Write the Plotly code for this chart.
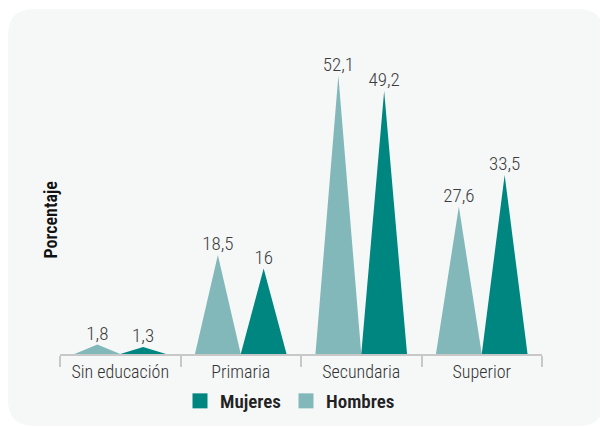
import plotly.graph_objects as go

categories = ["Sin educación", "Primaria", "Secundaria", "Superior"]
hombres = [1.8, 18.5, 52.1, 27.6]
mujeres = [1.3, 16, 49.2, 33.5]

C_H = "#83b8ba"
C_M = "#008681"
FONT = "Roboto Condensed, DejaVu Sans Condensed, sans-serif"

OFF = 8  # page body margin offset
W, H = 608, 427
ML, MR, MT, MB = 60 - OFF, 608 - (542 - OFF), 22 - OFF, 427 - (354 - OFF)
PW, PH = W - ML - MR, H - MT - MB
YMAX = 62.1
BW = 0.38  # triangle base width in category units

def fmt(v):
    return ("%g" % v).replace(".", ",")

fig = go.Figure()

for series, color, side in ((hombres, C_H, -1), (mujeres, C_M, 1)):
    xs, ys = [], []
    for i, v in enumerate(series):
        a = i if side > 0 else i - BW
        xs += [a, a + BW / 2, a + BW, None]
        ys += [0, v, 0, None]
    fig.add_trace(go.Scatter(x=xs, y=ys, mode="lines", fill="toself",
                             fillcolor=color, line=dict(width=0, color=color),
                             showlegend=False, hoverinfo="skip"))
    fig.add_trace(go.Scatter(
        x=[i + side * BW / 2 for i in range(len(series))], y=series,
        mode="text", text=[fmt(v) for v in series], textposition="top center",
        textfont=dict(family=FONT, size=19, color="#3c3c3c", weight=300),
        showlegend=False, hoverinfo="skip"))

fig.add_trace(go.Scatter(x=[None], y=[None], mode="markers", name="Mujeres",
                         marker=dict(symbol="square", size=15, color=C_M)))
fig.add_trace(go.Scatter(x=[None], y=[None], mode="markers", name="Hombres",
                         marker=dict(symbol="square", size=15, color=C_H)))

def px(x):
    return (x - OFF - ML) / PW

def py(y):
    return (H - MB - (y - OFF)) / PH

x0, x1, y0, y1, r = 8, 604, 9, 426, 26
path = (f"M {px(x0 + r)} {py(y0)} L {px(x1 - r)} {py(y0)} "
        f"Q {px(x1)} {py(y0)} {px(x1)} {py(y0 + r)} "
        f"L {px(x1)} {py(y1 - r)} Q {px(x1)} {py(y1)} {px(x1 - r)} {py(y1)} "
        f"L {px(x0 + r)} {py(y1)} Q {px(x0)} {py(y1)} {px(x0)} {py(y1 - r)} "
        f"L {px(x0)} {py(y0 + r)} Q {px(x0)} {py(y0)} {px(x0 + r)} {py(y0)} Z")

fig.update_layout(
    width=W, height=H,
    margin=dict(l=ML, r=MR, t=MT, b=MB),
    paper_bgcolor="white", plot_bgcolor="rgba(0,0,0,0)",
    shapes=[dict(type="path", path=path, xref="paper", yref="paper",
                 fillcolor="#f6f8f8", line=dict(width=0), layer="below")],
    xaxis=dict(range=[-0.5, 3.5], tickmode="array", tickvals=list(range(4)),
               ticktext=categories, ticks="outside", ticklen=0,
               showline=True, linecolor="#c8c8c8", linewidth=2,
               showgrid=False, zeroline=False, fixedrange=True,
               tickfont=dict(family=FONT, size=18, color="#333333", weight=300),
               minor=dict(tickmode="array", tickvals=[-0.5, 0.5, 1.5, 2.5, 3.5],
                          ticks="outside", ticklen=11, tickwidth=2,
                          tickcolor="#c8c8c8", showgrid=False)),
    yaxis=dict(range=[0, YMAX], visible=False, fixedrange=True),
    legend=dict(orientation="h", x=px(290), y=py(401), xanchor="center",
                yanchor="middle",
                font=dict(family=FONT, size=19, color="#222222", weight=600),
                bgcolor="rgba(0,0,0,0)", itemwidth=30),
    annotations=[dict(text="Porcentaje", x=px(37), y=py(220), xref="paper",
                      yref="paper", textangle=-90, showarrow=False,
                      font=dict(family=FONT, size=18, color="#111111", weight=600))],
)

fig.write_html("out.html")
